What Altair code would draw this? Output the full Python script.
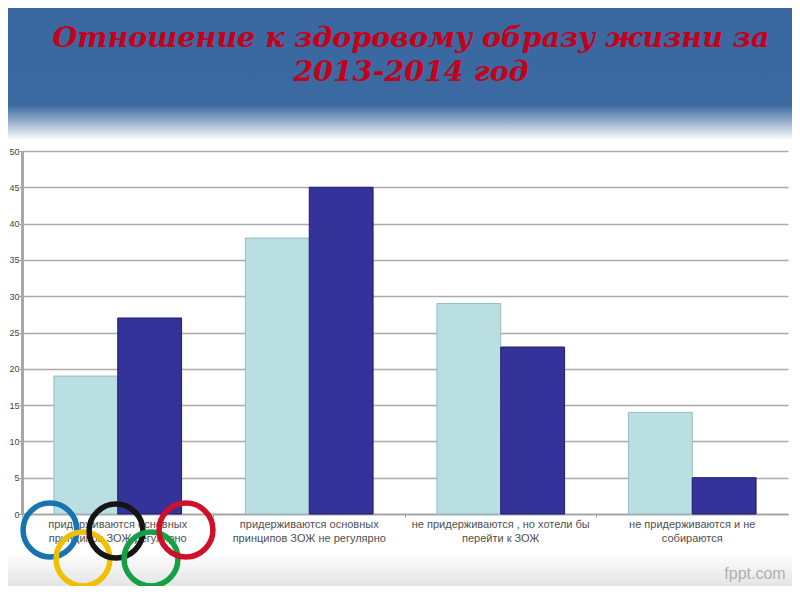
import altair as alt
import pandas as pd

# ---- data ----
cat_line1 = ["придерживаются основных", "придерживаются основных",
             "не придерживаются , но хотели бы", "не придерживаются и не"]
cat_line2 = ["принципов ЗОЖ регулярно", "принципов ЗОЖ не регулярно",
             "перейти к ЗОЖ", "собираются"]
categories = [a + " " + b for a, b in zip(cat_line1, cat_line2)]
series = ["2013", "2014"]
values_2013 = [19, 38, 29, 14]
values_2014 = [27, 45, 23, 5]
y_ticks = [0, 5, 10, 15, 20, 25, 30, 35, 40, 45, 50]

title_lines = ["Отношение к здоровому образу жизни за", "2013-2014 год"]

ring_x = [28, 61, 94, 129, 164]
ring_y = [379, 408, 380, 408, 379]
ring_c = ["#1874b0", "#f0c000", "#151515", "#14a044", "#d01028"]

rows = []
for i, c in enumerate(categories):
    rows.append({"category": c, "series": series[0], "value": values_2013[i]})
    rows.append({"category": c, "series": series[1], "value": values_2014[i]})
df = pd.DataFrame(rows)

label_expr = ""
for c, a, b in zip(categories, cat_line1, cat_line2):
    label_expr += f"datum.label == '{c}' ? ['{a}', '{b}'] : "
label_expr += "datum.label"

one = pd.DataFrame({"d": [0]})

W, H = 766, 363

header = alt.Chart(one).mark_rect(
    color={"gradient": "linear", "x1": 0, "y1": 0, "x2": 0, "y2": 1,
           "stops": [{"offset": 0, "color": "#3a67a0"},
                     {"offset": 0.7, "color": "#3b6aa2"},
                     {"offset": 0.95, "color": "#ffffff"},
                     {"offset": 1, "color": "#ffffff"}]}
).encode(x=alt.value(-14), x2=alt.value(W + 12), y=alt.value(-143), y2=alt.value(-4))

bottom_fade = alt.Chart(one).mark_rect(
    color={"gradient": "linear", "x1": 0, "y1": 0, "x2": 0, "y2": 1,
           "stops": [{"offset": 0, "color": "#ffffff"},
                     {"offset": 1, "color": "#dedede"}]}
).encode(x=alt.value(-14), x2=alt.value(W + 12), y=alt.value(H + 38), y2=alt.value(H + 80))

title = alt.Chart(one).mark_text(
    text=title_lines, font="DejaVu Serif", fontStyle="italic", fontWeight="bold",
    fontSize=28.5, color="#c4001a", lineHeight=34, align="center", baseline="alphabetic"
).encode(x=alt.value(389), y=alt.value(-104))

bars = alt.Chart(df).mark_bar(strokeWidth=1).encode(
    x=alt.X("category:N", sort=categories, title=None,
            scale=alt.Scale(paddingInner=0, paddingOuter=0),
            axis=alt.Axis(labelExpr=label_expr, labelAngle=0, labelFont="Liberation Sans",
                          labelFontSize=11, labelColor="#505050", labelLineHeight=14,
                          labelPadding=1, tickSize=3, tickColor="#999999", bandPosition=0,
                          domainColor="#a0a0a0", domainWidth=1.5, labelLimit=220,
                          labelBaseline="top")),
    xOffset=alt.XOffset("series:N", scale=alt.Scale(paddingInner=0, paddingOuter=0.5)),
    y=alt.Y("value:Q", title=None, scale=alt.Scale(domain=[0, 50], nice=False),
            axis=alt.Axis(values=y_ticks, labelFont="Liberation Sans", labelFontSize=9,
                          labelColor="#444444", tickSize=3, tickColor="#999999",
                          domainColor="#a8a8a8", domainWidth=3, gridColor="#ababab",
                          gridWidth=1.6, labelPadding=0)),
    color=alt.Color("series:N", scale=alt.Scale(domain=series, range=["#b9dfe3", "#333399"]),
                    legend=None),
    stroke=alt.Stroke("series:N", scale=alt.Scale(domain=series, range=["#98bcc2", "#1e1e6e"]),
                      legend=None),
)

rings_df = pd.DataFrame({"rx": ring_x, "ry": ring_y, "rc": ring_c})
rings = alt.Chart(rings_df).mark_point(shape="circle", filled=False, strokeWidth=5.5,
                                       opacity=1, size=2900).encode(
    x=alt.X("rx:Q", scale=None, axis=None),
    y=alt.Y("ry:Q", scale=None, axis=None),
    color=alt.Color("rc:N", scale=None),
)

wm = alt.Chart(one).mark_text(text="fppt.com", font="Liberation Sans", fontSize=16,
                              color="#b0b0b0", align="center").encode(
    x=alt.value(733), y=alt.value(423))

chart = alt.layer(header, bottom_fade, title, bars, rings, wm).resolve_scale(
    x="independent", y="independent", color="independent"
).properties(
    width=W, height=H,
    autosize=alt.AutoSizeParams(type="none"),
    padding={"left": 14, "top": 143, "right": 4, "bottom": 72},
    background="white",
).configure_view(stroke=None)

chart.save("out.html", embed_options={"renderer": "svg", "actions": False})
